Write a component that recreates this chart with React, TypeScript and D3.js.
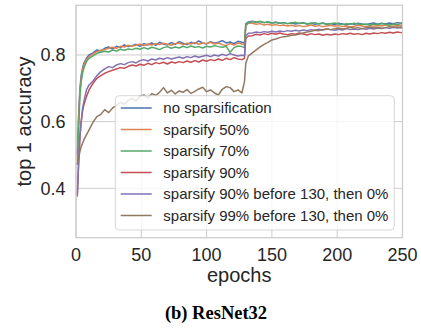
import React from "react";
import * as d3 from "d3";

const epochs = [1, 2, 3, 4, 5, 6, 8, 10,
  13, 16, 19, 22, 25, 28, 31, 34, 37, 40, 43, 46, 49, 52, 55, 58, 61, 64, 67, 70, 73, 76, 79, 82, 85, 88, 91, 94, 97, 100, 103, 106, 109, 112, 115, 118, 121, 124, 127,
  129, 130, 132,
  135, 138, 141, 144, 147, 150, 153, 156, 159, 162, 165, 168, 171, 174, 177, 180, 183, 186, 189, 192, 195, 198, 201, 204, 207, 210, 213, 216, 219, 222, 225, 228, 231, 234, 237, 240, 243, 246, 249,
  250];

const noSparsification = [0.50, 0.62, 0.70, 0.74, 0.76, 0.775, 0.79, 0.80,
  0.806, 0.815, 0.812, 0.82, 0.824, 0.818, 0.826, 0.822, 0.83, 0.825, 0.828, 0.832, 0.826, 0.834, 0.83, 0.836, 0.829, 0.838, 0.833, 0.83, 0.837, 0.832, 0.84, 0.835, 0.831, 0.838, 0.834, 0.842, 0.836, 0.833, 0.84, 0.835, 0.838, 0.843, 0.836, 0.839, 0.834, 0.841, 0.838,
  0.836, 0.893, 0.899,
  0.901, 0.898, 0.9, 0.897, 0.899, 0.896, 0.898, 0.895, 0.897, 0.894, 0.896, 0.893, 0.895, 0.897, 0.893, 0.895, 0.892, 0.894, 0.896, 0.892, 0.894, 0.891, 0.895, 0.893, 0.89, 0.894, 0.892, 0.895, 0.893, 0.891, 0.894, 0.896, 0.892, 0.895, 0.893, 0.896, 0.894, 0.897, 0.895,
  0.898];

const sparsify50 = [0.49, 0.60, 0.69, 0.73, 0.755, 0.77, 0.785, 0.795,
  0.803, 0.81, 0.814, 0.816, 0.82, 0.823, 0.82, 0.826, 0.824, 0.829, 0.826, 0.83, 0.832, 0.828, 0.833, 0.83, 0.834, 0.831, 0.835, 0.832, 0.829, 0.834, 0.836, 0.831, 0.835, 0.833, 0.837, 0.832, 0.836, 0.834, 0.838, 0.833, 0.836, 0.831, 0.828, 0.834, 0.83, 0.836, 0.833,
  0.832, 0.888, 0.895,
  0.895, 0.892, 0.894, 0.89, 0.892, 0.889, 0.891, 0.888, 0.89, 0.887, 0.889, 0.886, 0.888, 0.885, 0.887, 0.89, 0.886, 0.888, 0.885, 0.887, 0.889, 0.886, 0.888, 0.885, 0.887, 0.884, 0.886, 0.889, 0.887, 0.885, 0.888, 0.886, 0.889, 0.887, 0.89, 0.888, 0.886, 0.889, 0.887,
  0.89];

const sparsify70 = [0.47, 0.57, 0.68, 0.72, 0.745, 0.76, 0.78, 0.79,
  0.797, 0.805, 0.808, 0.811, 0.809, 0.815, 0.812, 0.817, 0.814, 0.818, 0.816, 0.82, 0.817, 0.822, 0.818, 0.823, 0.82, 0.816, 0.822, 0.825, 0.82, 0.824, 0.821, 0.826, 0.822, 0.827, 0.823, 0.825, 0.821, 0.826, 0.824, 0.828, 0.825, 0.823, 0.826, 0.808, 0.822, 0.827, 0.825,
  0.822, 0.89, 0.897,
  0.9, 0.898, 0.901, 0.897, 0.899, 0.896, 0.898, 0.895, 0.897, 0.894, 0.896, 0.898, 0.894, 0.896, 0.893, 0.895, 0.897, 0.893, 0.895, 0.892, 0.894, 0.896, 0.893, 0.891, 0.894, 0.892, 0.895, 0.893, 0.891, 0.893, 0.89, 0.893, 0.891, 0.894, 0.892, 0.89, 0.893, 0.891, 0.894,
  0.892];

const sparsify90 = [0.38, 0.47, 0.55, 0.6, 0.63, 0.65, 0.675, 0.695,
  0.715, 0.73, 0.738, 0.745, 0.75, 0.754, 0.758, 0.762, 0.76, 0.766, 0.77, 0.767, 0.772, 0.769, 0.775, 0.771, 0.777, 0.774, 0.778, 0.773, 0.779, 0.776, 0.78, 0.777, 0.782, 0.778, 0.783, 0.779, 0.785, 0.781, 0.786, 0.783, 0.788, 0.784, 0.79, 0.786, 0.792, 0.788, 0.786,
  0.79, 0.85, 0.857,
  0.858, 0.862, 0.86, 0.864, 0.861, 0.865, 0.862, 0.866, 0.863, 0.861, 0.864, 0.862, 0.866, 0.863, 0.86, 0.864, 0.861, 0.863, 0.859, 0.862, 0.86, 0.863, 0.861, 0.864, 0.862, 0.865, 0.862, 0.864, 0.861, 0.865, 0.863, 0.866, 0.864, 0.867, 0.865, 0.868, 0.866, 0.869, 0.867,
  0.868];

const sparsify90Then0 = [0.375, 0.48, 0.56, 0.6, 0.64, 0.66, 0.695, 0.71,
  0.722, 0.738, 0.75, 0.758, 0.765, 0.762, 0.77, 0.774, 0.771, 0.777, 0.78, 0.776, 0.783, 0.786, 0.782, 0.788, 0.785, 0.79, 0.787, 0.792, 0.788, 0.791, 0.794, 0.79, 0.795, 0.792, 0.797, 0.793, 0.796, 0.799, 0.795, 0.8, 0.797, 0.802, 0.798, 0.804, 0.8, 0.797, 0.799,
  0.798, 0.858, 0.865,
  0.866, 0.869, 0.867, 0.87, 0.868, 0.871, 0.869, 0.872, 0.87, 0.873, 0.871, 0.874, 0.872, 0.875, 0.873, 0.876, 0.874, 0.877, 0.875, 0.878, 0.876, 0.874, 0.877, 0.875, 0.879, 0.876, 0.878, 0.876, 0.879, 0.877, 0.88, 0.878, 0.881, 0.879, 0.882, 0.88, 0.883, 0.881, 0.884,
  0.883];

const sparsify99Then0 = [0.47, 0.49, 0.51, 0.525, 0.535, 0.545, 0.56, 0.575,
  0.598, 0.615, 0.622, 0.636, 0.627, 0.641, 0.648, 0.658, 0.652, 0.664, 0.67, 0.662, 0.676, 0.68, 0.671, 0.684, 0.679, 0.688, 0.702, 0.686, 0.694, 0.683, 0.692, 0.688, 0.696, 0.685, 0.691, 0.698, 0.703, 0.69, 0.695, 0.686, 0.68, 0.697, 0.705, 0.702, 0.69, 0.695, 0.686,
  0.72, 0.775, 0.797,
  0.806, 0.815, 0.824, 0.832, 0.838, 0.845, 0.848, 0.852, 0.855, 0.856, 0.859, 0.86, 0.863, 0.866, 0.869, 0.871, 0.874, 0.873, 0.876, 0.878, 0.876, 0.879, 0.881, 0.878, 0.88, 0.883, 0.88, 0.882, 0.879, 0.882, 0.884, 0.881, 0.883, 0.88, 0.882, 0.885, 0.882, 0.884, 0.881,
  0.882];

const seriesNames = [
  "no sparsification",
  "sparsify 50%",
  "sparsify 70%",
  "sparsify 90%",
  "sparsify 90% before 130, then 0%",
  "sparsify 99% before 130, then 0%",
];
const seriesValues = [noSparsification, sparsify50, sparsify70, sparsify90, sparsify90Then0, sparsify99Then0];
const colors = ["#4C72B0", "#DD8452", "#55A868", "#C44E52", "#8172B3", "#937860"];

const xTicks = [0, 50, 100, 150, 200, 250];
const yTicks = [0.4, 0.6, 0.8];

const W = 421;
const H = 329;
const L = 76, R = 402.5, T = 5.3, B = 237.7;
const FONT = "'Liberation Sans', Arial, sans-serif";
const TEXT = "#262626";

export default function App() {
  const x = d3.scaleLinear().domain([0, 250]).range([L, R]);
  const y = d3.scaleLinear().domain([0.2518, 0.949]).range([B, T]);
  const line = d3.line<number>()
    .x((_, i) => x(epochs[i]))
    .y((d) => y(d));

  const legX = 115.3, legY = 95.7, legW = 279, legH = 134.3;
  const rowY = (i: number) => 108 + i * 21.5;

  return (
    <svg width={W} height={H} style={{ position: "absolute", left: 0, top: 0, background: "#fff" }}>
      <defs>
        <clipPath id="plotclip">
          <rect x={L} y={T} width={R - L} height={B - T} />
        </clipPath>
      </defs>
      <rect x={0} y={0} width={W} height={H} fill="#fff" />
      {xTicks.map((t) => (
        <line key={"gx" + t} x1={x(t)} x2={x(t)} y1={T} y2={B} stroke="#cccccc" strokeWidth={1} />
      ))}
      {yTicks.map((t) => (
        <line key={"gy" + t} x1={L} x2={R} y1={y(t)} y2={y(t)} stroke="#cccccc" strokeWidth={1} />
      ))}
      <g clipPath="url(#plotclip)">
        {seriesValues.map((vals, i) => (
          <path key={"s" + i} d={line(vals) || ""} fill="none" stroke={colors[i]} strokeWidth={1.5} strokeLinejoin="round" />
        ))}
      </g>
      <rect x={L} y={T} width={R - L} height={B - T} fill="none" stroke="#cccccc" strokeWidth={1.25} />
      {xTicks.map((t) => (
        <text key={"tx" + t} x={x(t)} y={261} textAnchor="middle" fontFamily={FONT} fontSize={18} fill={TEXT}>{t}</text>
      ))}
      {yTicks.map((t) => (
        <text key={"ty" + t} x={65.5} y={y(t) + 6.5} textAnchor="end" fontFamily={FONT} fontSize={18} fill={TEXT}>{t.toFixed(1)}</text>
      ))}
      <text x={(L + R) / 2} y={282} textAnchor="middle" fontFamily={FONT} fontSize={20} fill={TEXT}>epochs</text>
      <text transform={`translate(31,${(T + B) / 2}) rotate(-90)`} textAnchor="middle" fontFamily={FONT} fontSize={20} fill={TEXT}>top 1 accuracy</text>

      <rect x={legX} y={legY} width={legW} height={legH} rx={4} ry={4} fill="#ffffff" fillOpacity={0.8} stroke="#cccccc" strokeOpacity={0.8} strokeWidth={1} />
      {seriesNames.map((name, i) => (
        <g key={"lg" + i}>
          <line x1={120.7} x2={151.7} y1={rowY(i)} y2={rowY(i)} stroke={colors[i]} strokeWidth={1.5} />
          <text x={163.3} y={rowY(i) + 5.3} fontFamily={FONT} fontSize={15} fill={TEXT}>{name}</text>
        </g>
      ))}

      <text x={216} y={319} textAnchor="middle" fontFamily="'Liberation Serif', 'Times New Roman', serif" fontWeight="bold" fontSize={18.5} fill="#000">(b) ResNet32</text>
    </svg>
  );
}
